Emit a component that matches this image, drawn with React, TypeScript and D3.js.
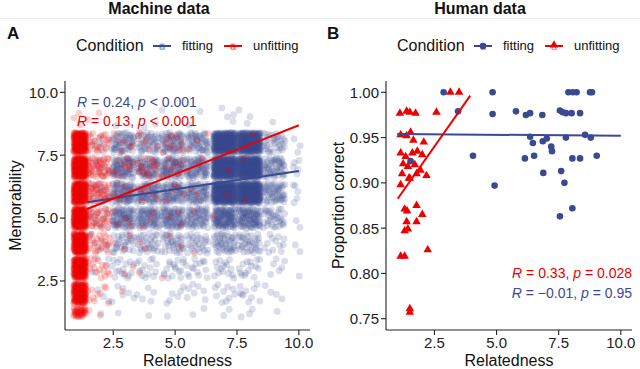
import React from 'react';
import * as d3 from 'd3';

// ---- Machine data (panel A): jittered counts per relatedness x memorability cell
const relatednessLevels = [1.15, 1.9, 2.9, 3.9, 4.9, 5.9, 7.0, 8.0, 9.0, 9.9];
const memorabilityLevels = [1.25, 2, 3, 4, 5, 6, 7, 8, 9];

// one row per relatedness level, one entry per memorability level
const fittingCounts = [
  [0, 0, 0, 0, 0, 0, 0, 0, 0],
  [1, 3, 5, 8, 12, 14, 12, 10, 0],
  [1, 6, 16, 30, 75, 75, 75, 55, 1],
  [1, 5, 14, 30, 70, 70, 65, 45, 2],
  [1, 6, 16, 35, 75, 70, 75, 60, 1],
  [2, 7, 14, 28, 60, 65, 70, 55, 2],
  [2, 10, 15, 45, 110, 320, 330, 310, 4],
  [3, 10, 15, 35, 90, 320, 320, 290, 3],
  [1, 4, 6, 12, 35, 55, 55, 35, 1],
  [0, 0, 1, 2, 2, 5, 5, 3, 0],
];
const unfittingCounts = [
  [40, 180, 200, 200, 220, 230, 230, 210, 3],
  [2, 10, 16, 25, 35, 45, 45, 25, 2],
  [0, 1, 2, 3, 5, 6, 10, 6, 0],
  [0, 0, 1, 2, 3, 6, 16, 6, 0],
  [0, 0, 1, 2, 3, 5, 8, 10, 0],
  [0, 0, 0, 1, 1, 2, 3, 3, 0],
  [0, 0, 0, 0, 1, 1, 1, 1, 0],
  [0, 0, 0, 0, 0, 1, 1, 1, 0],
  [0, 0, 0, 0, 0, 0, 0, 0, 0],
  [0, 0, 0, 0, 0, 0, 0, 0, 0],
];
const machineFittingFit = [[1.44, 5.63], [10, 6.87]];
const machineUnfittingFit = [[1.44, 5.36], [10, 8.69]];

// ---- Human data (panel B)
const humanFitting = [
  [2.87, 1.0], [4.84, 1.0], [7.89, 1.0], [8.07, 1.0], [8.22, 1.0], [8.76, 1.0], [8.84, 1.0],
  [3.45, 0.979], [4.84, 0.976], [5.78, 0.979], [6.18, 0.975], [6.35, 0.977], [6.84, 0.975],
  [7.55, 0.98], [7.66, 0.978], [7.79, 0.977], [8.02, 0.977], [8.36, 0.977],
  [6.35, 0.951], [6.46, 0.944], [6.86, 0.946], [7.02, 0.949], [7.2, 0.94], [7.23, 0.935],
  [7.79, 0.95], [8.56, 0.953], [8.79, 0.95],
  [4.05, 0.93], [6.14, 0.927], [6.51, 0.93], [8.05, 0.927], [8.36, 0.927], [9.03, 0.93],
  [6.88, 0.911], [7.6, 0.913], [7.73, 0.9], [4.92, 0.897], [7.55, 0.863], [8.05, 0.872],
  [1.54, 0.924],
];
const humanUnfitting = [
  [1.11, 0.977], [1.38, 0.979], [1.51, 0.978], [1.74, 0.977], [2.58, 0.978], [3.14, 1.0], [3.49, 1.0],
  [1.14, 0.953], [1.38, 0.952], [1.54, 0.956], [1.65, 0.947], [2.07, 0.945],
  [1.14, 0.933], [1.34, 0.929], [1.61, 0.933], [1.81, 0.935], [2.01, 0.931],
  [1.24, 0.921], [1.43, 0.918], [1.71, 0.92],
  [1.2, 0.91], [1.51, 0.905], [1.78, 0.91], [1.94, 0.914], [2.18, 0.908],
  [1.14, 0.898], [1.47, 0.905],
  [1.3, 0.871], [1.4, 0.869], [1.78, 0.875], [2.01, 0.865], [1.38, 0.857], [1.78, 0.857],
  [1.43, 0.849], [1.3, 0.847], [2.23, 0.826], [1.14, 0.819], [1.3, 0.819],
  [1.51, 0.761], [1.51, 0.757],
];
const humanFittingFit = [[1.0, 0.954], [10, 0.952]];
const humanUnfittingFit = [[1.02, 0.8825], [3.94, 0.9964]];

const xTicks = [2.5, 5.0, 7.5, 10.0];
const yTicksA = [2.5, 5.0, 7.5, 10.0];
const yTicksB = [0.75, 0.8, 0.85, 0.9, 0.95, 1.0];

const BLUE = '#3B4992';
const RED = '#EE0000';
const FONT = '"Liberation Sans", Arial, Helvetica, sans-serif';
const AXIS = '#222';

// radical inverse, used for a deterministic jitter layout (like geom_jitter)
function halton(i: number, b: number) {
  let f = 1, r = 0;
  while (i > 0) {
    f /= b;
    r += f * (i % b);
    i = Math.floor(i / b);
  }
  return r;
}

function jitterCells(counts: number[][], offset: number) {
  const pts: [number, number][] = [];
  counts.forEach((row, ci) => {
    const hx = ci === 0 ? 0.25 : ci === counts.length - 1 ? 0.15 : 0.45;
    row.forEach((n, ri) => {
      const hy = ri === 0 ? 0.18 : 0.4;
      const s1 = (ci * 0.3183 + ri * 0.7311 + offset) % 1;
      const s2 = (ci * 0.5477 + ri * 0.1732 + offset * 0.7) % 1;
      const start = 7 + ci * 13 + ri * 29;
      for (let k = 0; k < n; k++) {
        const u = (s1 + halton(start + k, 2)) % 1;
        const v = (s2 + halton(start + k, 3)) % 1;
        pts.push([
          relatednessLevels[ci] + (2 * u - 1) * hx,
          memorabilityLevels[ri] + (2 * v - 1) * hy,
        ]);
      }
    });
  });
  return pts;
}

function Axes({ x, y, yTicks, fmt, yTitle, titleX }: any) {
  const [x0, x1] = x.range();
  const [y0, y1] = y.range();
  return (
    <g fontFamily={FONT}>
      <line x1={x0} x2={x1} y1={y0} y2={y0} stroke={AXIS} strokeWidth={1.1} />
      <line x1={x0} x2={x0} y1={y0} y2={y1} stroke={AXIS} strokeWidth={1.1} />
      {xTicks.map(t => (
        <g key={'x' + t}>
          <line x1={x(t)} x2={x(t)} y1={y0} y2={y0 + 5} stroke={AXIS} strokeWidth={1.1} />
          <text x={x(t)} y={348} textAnchor="middle" fontSize={15} fill="#222">
            {t.toFixed(1)}
          </text>
        </g>
      ))}
      {yTicks.map((t: number) => (
        <g key={'y' + t}>
          <line x1={x0 - 5} x2={x0} y1={y(t)} y2={y(t)} stroke={AXIS} strokeWidth={1.1} />
          <text x={x0 - 7} y={y(t)} dy="0.36em" textAnchor="end" fontSize={15} fill="#222">
            {fmt(t)}
          </text>
        </g>
      ))}
      <text x={(x0 + x1) / 2} y={366} textAnchor="middle" fontSize={16} fill="#111">
        Relatedness
      </text>
      <text
        transform={`translate(${titleX},${(y0 + y1) / 2}) rotate(-90)`}
        textAnchor="middle"
        fontSize={16}
        fill="#111"
      >
        {yTitle}
      </text>
    </g>
  );
}

function Legend({ left, solid }: { left: number; solid: boolean }) {
  const keys = [
    { label: 'fitting', color: BLUE, kx: left + 77, tx: left + 106, tri: false },
    { label: 'unfitting', color: RED, kx: left + 148, tx: left + 177, tri: true },
  ];
  return (
    <g fontFamily={FONT}>
      <text x={left} y={51} fontSize={16} fill="#111">Condition</text>
      {keys.map(k => (
        <g key={k.label}>
          <line x1={k.kx} x2={k.kx + 18} y1={46} y2={46} stroke={k.color} strokeWidth={2} />
          {solid ? (
            k.tri ? (
              <path
                d={d3.symbol(d3.symbolTriangle, 30)() as string}
                transform={`translate(${k.kx + 9},45)`}
                fill={k.color}
              />
            ) : (
              <circle cx={k.kx + 9} cy={46} r={3.3} fill={k.color} />
            )
          ) : (
            <circle cx={k.kx + 9} cy={46} r={3.3} fill={k.color} opacity={0.2} />
          )}
          <text x={k.kx + 9} y={50} textAnchor="middle" fontSize={11} fill={k.color} opacity={0.6}>
            a
          </text>
          <text x={k.tx} y={50} fontSize={13} fill="#111">{k.label}</text>
        </g>
      ))}
    </g>
  );
}

function Stat({ x, y, anchor, color, r, op, p }: any) {
  return (
    <text x={x} y={y} textAnchor={anchor} fontSize={14} fill={color} fontFamily={FONT}>
      <tspan fontStyle="italic">R</tspan>
      {` = ${r}, `}
      <tspan fontStyle="italic">p</tspan>
      {` ${op} ${p}`}
    </text>
  );
}

export default function App() {
  const xA = d3.scaleLinear().domain([0.55, 10.45]).range([65, 310]);
  const yA = d3.scaleLinear().domain([0.55, 10.45]).range([330, 81]);
  const xB = d3.scaleLinear().domain([0.55, 10.45]).range([386, 632]);
  const yB = d3.scaleLinear().domain([0.7375, 1.0125]).range([330, 81]);

  const fitPts = jitterCells(fittingCounts, 0.13);
  const unfitPts = jitterCells(unfittingCounts, 0.61);

  const lineA = d3.line<number[]>().x(d => xA(d[0])).y(d => yA(d[1]));
  const lineB = d3.line<number[]>().x(d => xB(d[0])).y(d => yB(d[1]));
  const tri = d3.symbol(d3.symbolTriangle, 32)() as string;

  return (
    <svg
      width={640}
      height={369}
      style={{ position: 'absolute', left: 0, top: 0, background: '#fff' }}
      fontFamily={FONT}
    >
      <rect width={640} height={369} fill="#fff" />
      <line x1={0} x2={640} y1={18.5} y2={18.5} stroke="#ececec" strokeWidth={1} />
      <text x={159} y={13.5} textAnchor="middle" fontSize={16} fontWeight="bold" fill="#111">
        Machine data
      </text>
      <text x={480} y={13.5} textAnchor="middle" fontSize={16} fontWeight="bold" fill="#111">
        Human data
      </text>
      <text x={7} y={38.5} fontSize={17} fontWeight="bold" fill="#111">A</text>
      <text x={327} y={38.5} fontSize={17} fontWeight="bold" fill="#111">B</text>

      <Legend left={76} solid={false} />
      <Legend left={397} solid={true} />

      {/* panel A */}
      <g>
        {fitPts.map((d, i) => (
          <circle key={'f' + i} cx={xA(d[0])} cy={yA(d[1])} r={3.4} fill={BLUE} fillOpacity={0.19} />
        ))}
        {unfitPts.map((d, i) => (
          <circle key={'u' + i} cx={xA(d[0])} cy={yA(d[1])} r={3.4} fill={RED} fillOpacity={0.19} />
        ))}
        <path d={lineA(machineFittingFit) as string} stroke={BLUE} strokeWidth={2} fill="none" />
        <path d={lineA(machineUnfittingFit) as string} stroke={RED} strokeWidth={2} fill="none" />
        <Axes x={xA} y={yA} yTicks={yTicksA} fmt={(t: number) => t.toFixed(1)} yTitle="Memorability" titleX={21} />
        <Stat x={77} y={107} anchor="start" color={BLUE} r="0.24" op="<" p="0.001" />
        <Stat x={77} y={126} anchor="start" color={RED} r="0.13" op="<" p="0.001" />
      </g>

      {/* panel B */}
      <g>
        {humanFitting.map((d, i) => (
          <circle key={'hf' + i} cx={xB(d[0])} cy={yB(d[1])} r={3.3} fill={BLUE} />
        ))}
        {humanUnfitting.map((d, i) => (
          <path key={'hu' + i} d={tri} transform={`translate(${xB(d[0])},${yB(d[1])})`} fill={RED} />
        ))}
        <path d={lineB(humanFittingFit) as string} stroke={BLUE} strokeWidth={2} fill="none" />
        <path d={lineB(humanUnfittingFit) as string} stroke={RED} strokeWidth={2} fill="none" />
        <Axes x={xB} y={yB} yTicks={yTicksB} fmt={(t: number) => t.toFixed(2)} yTitle="Proportion correct" titleX={344} />
        <Stat x={632} y={278} anchor="end" color={RED} r="0.33" op="=" p="0.028" />
        <Stat x={632} y={298} anchor="end" color={BLUE} r={'\u22120.01'} op="=" p="0.95" />
      </g>
    </svg>
  );
}
